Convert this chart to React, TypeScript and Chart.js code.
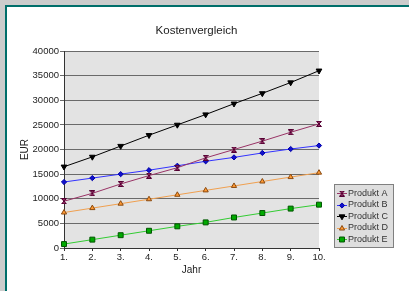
import React, { useEffect, useRef } from "react";
import { Chart, registerables } from "chart.js";
import { drawPoint } from "chart.js/helpers";

Chart.register(...registerables);

const years = ["1.", "2.", "3.", "4.", "5.", "6.", "7.", "8.", "9.", "10."];
const produktA = [9500, 11100, 13000, 14700, 16300, 18300, 20000, 21700, 23500, 25200];
const produktB = [13400, 14200, 15000, 15800, 16700, 17600, 18400, 19300, 20100, 20800];
const produktC = [16500, 18500, 20700, 22900, 25000, 27100, 29300, 31400, 33600, 36000];
const produktD = [7200, 8100, 9000, 9900, 10800, 11700, 12600, 13500, 14400, 15300];
const produktE = [800, 1700, 2600, 3500, 4400, 5200, 6200, 7100, 8000, 8800];
const seriesNames = ["Produkt A", "Produkt B", "Produkt C", "Produkt D", "Produkt E"];
const chartTitle = "Kostenvergleich";
const yMin = 0;
const yMax = 40000;
const yStep = 5000;

const FONT = "'Liberation Sans', Arial, sans-serif";
const TEXT = "#222";

function makeHourglass(fill: string, stroke: string): HTMLCanvasElement {
  const c = document.createElement("canvas");
  c.width = 6;
  c.height = 6;
  const g = c.getContext("2d")!;
  g.fillStyle = fill;
  g.strokeStyle = stroke;
  g.lineWidth = 1;
  g.beginPath();
  g.moveTo(0.5, 0.5);
  g.lineTo(5.5, 0.5);
  g.lineTo(3, 3);
  g.lineTo(5.5, 5.5);
  g.lineTo(0.5, 5.5);
  g.lineTo(3, 3);
  g.closePath();
  g.fill();
  g.stroke();
  return c;
}

export default function App() {
  const ref = useRef<HTMLCanvasElement>(null);

  useEffect(() => {
    const canvas = ref.current!;
    const hourglass = makeHourglass("#993366", "#550033");

    const values = [produktA, produktB, produktC, produktD, produktE];
    const lineColors = ["#993366", "#3333ff", "#000000", "#f0a050", "#33cc33"];
    const fills = ["#993366", "#1111cc", "#000000", "#ff9933", "#00aa00"];
    const strokes = ["#550033", "#0000aa", "#000000", "#8a4a10", "#005500"];
    const styles: any[] = [hourglass, "rectRot", "triangle", "triangle", "rect"];
    const radii = [3, 2.6, 3.3, 3, 3.5];
    const rotations = [0, 0, 180, 0, 0];

    const datasets = values.map((v, i) => ({
      label: seriesNames[i],
      data: v,
      borderColor: lineColors[i],
      backgroundColor: fills[i],
      borderWidth: 1,
      pointStyle: styles[i],
      pointRadius: radii[i],
      pointRotation: rotations[i],
      pointBackgroundColor: fills[i],
      pointBorderColor: strokes[i],
      pointBorderWidth: 1,
      tension: 0,
    }));

    const bgPlugin = {
      id: "plotBg",
      beforeDraw(chart: any) {
        const { ctx, chartArea } = chart;
        ctx.save();
        ctx.fillStyle = "#e3e3e3";
        ctx.fillRect(chartArea.left, chartArea.top, chartArea.right - chartArea.left, chartArea.bottom - chartArea.top);
        ctx.restore();
      },
    };

    const titlePlugin = {
      id: "centredTitle",
      afterDraw(chart: any) {
        const ctx = chart.ctx;
        ctx.save();
        ctx.font = `11.5px ${FONT}`;
        ctx.fillStyle = TEXT;
        ctx.textAlign = "center";
        ctx.textBaseline = "middle";
        ctx.fillText(chartTitle, 196.5, 30.5);
        ctx.restore();
      },
    };

    const legendPlugin = {
      id: "boxLegend",
      afterDraw(chart: any) {
        const ctx = chart.ctx;
        const bx = 334, by = 184, bw = 60, bh = 64;
        ctx.save();
        ctx.fillStyle = "#dedede";
        ctx.fillRect(bx, by, bw, bh);
        ctx.strokeStyle = "#808080";
        ctx.lineWidth = 1;
        ctx.strokeRect(bx + 0.5, by + 0.5, bw - 1, bh - 1);
        ctx.font = `9px ${FONT}`;
        ctx.textBaseline = "middle";
        ctx.textAlign = "left";
        seriesNames.forEach((name, i) => {
          const y = by + 9 + i * 11.5;
          ctx.strokeStyle = lineColors[i];
          ctx.lineWidth = 1;
          ctx.beginPath();
          ctx.moveTo(337, Math.round(y) + 0.5);
          ctx.lineTo(347, Math.round(y) + 0.5);
          ctx.stroke();
          ctx.fillStyle = fills[i];
          ctx.strokeStyle = strokes[i];
          drawPoint(ctx, { pointStyle: styles[i], rotation: rotations[i], radius: radii[i], borderWidth: 1 } as any, 342, Math.round(y) + 0.5);
          ctx.fillStyle = "#333";
          ctx.fillText(name, 348, y + 0.5);
        });
        ctx.restore();
      },
    };

    const chart = new Chart(canvas, {
      type: "line",
      data: { labels: years, datasets },
      plugins: [bgPlugin, titlePlugin, legendPlugin],
      options: {
        responsive: false,
        animation: false,
        devicePixelRatio: 1,
        layout: { padding: { left: 10, top: 51, right: 90, bottom: 10 } },
        plugins: {
          legend: { display: false },
          tooltip: { enabled: false },
          title: { display: false },
        },
        scales: {
          x: {
            type: "category",
            offset: false,
            grid: { drawOnChartArea: false, drawTicks: true, tickLength: 3, color: "#333" },
            border: { color: "#333", width: 1 },
            ticks: { color: TEXT, padding: 1, maxRotation: 0, autoSkip: false, font: { family: FONT, size: 9.5 } },
            title: {
              display: true,
              text: "Jahr",
              color: TEXT,
              font: { family: FONT, size: 10, lineHeight: 1.2 },
              padding: { top: 0, bottom: 5 },
            },
            afterFit(scale: any) {
              scale.height = 33;
            },
          },
          y: {
            min: yMin,
            max: yMax,
            grid: { color: "#6a6a6a", tickLength: 4, drawTicks: true },
            border: { color: "#333", width: 1 },
            ticks: {
              stepSize: yStep,
              color: TEXT,
              padding: 1,
              font: { family: FONT, size: 9.5 },
              callback: (v: any) => String(v),
            },
            title: {
              display: true,
              text: "EUR",
              color: TEXT,
              font: { family: FONT, size: 10, lineHeight: 1.2 },
              padding: { top: 9, bottom: 0 },
            },
            afterFit(scale: any) {
              scale.width = 54;
            },
          },
        },
      },
    });
    return () => chart.destroy();
  }, []);

  return (
    <div style={{ position: "fixed", left: 0, top: 0, width: 409, height: 291, background: "#cccccc", overflow: "hidden" }}>
      <div
        style={{
          position: "absolute",
          left: 5,
          top: 5,
          right: 0,
          bottom: 0,
          background: "#ffffff",
          borderLeft: "2px solid #006e6a",
          borderTop: "2px solid #006e6a",
        }}
      />
      <canvas ref={ref} width={409} height={291} style={{ position: "absolute", left: 0, top: 0, width: 409, height: 291 }} />
    </div>
  );
}
